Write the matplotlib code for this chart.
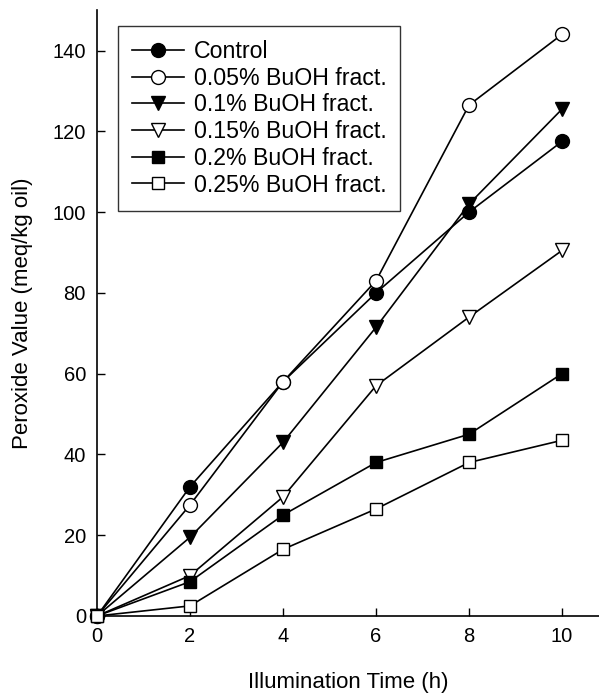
import matplotlib.pyplot as plt

plt.rcParams['font.family'] = ['Liberation Sans', 'DejaVu Sans']

# illumination time (h)
hours = [0, 2, 4, 6, 8, 10]

# peroxide value (meq/kg oil)
control = [0, 32, 58, 80, 100, 117.5]
buoh_005 = [0, 27.5, 58, 83, 126.5, 144]
buoh_01 = [0, 19.5, 43, 71.5, 102, 125.5]
buoh_015 = [0, 10, 29.5, 57, 74, 90.5]
buoh_02 = [0, 8.5, 25, 38, 45, 60]
buoh_025 = [0, 2.5, 16.5, 26.5, 38, 43.5]

labels = ['Control', '0.05% BuOH fract.', '0.1% BuOH fract.',
          '0.15% BuOH fract.', '0.2% BuOH fract.', '0.25% BuOH fract.']

fig = plt.figure(figsize=(5.99, 6.98), dpi=100)
ax = fig.add_axes([0.162, 0.1175, 0.84, 0.868])

styles = [('o', 'black'), ('o', 'white'), ('v', 'black'),
          ('v', 'white'), ('s', 'black'), ('s', 'white')]
series = [control, buoh_005, buoh_01, buoh_015, buoh_02, buoh_025]

for vals, lab, (m, fc) in zip(series, labels, styles):
    ms = 10 if m != 's' else 9
    ax.plot(hours, vals, color='black', lw=1.2, marker=m, ms=ms,
            mfc=fc, mec='black', mew=1.0, label=lab, clip_on=False, zorder=3)

ax.set_xlim(0, 10.82)
ax.set_ylim(0, 150)
ax.set_xticks([0, 2, 4, 6, 8, 10])
ax.set_yticks([0, 20, 40, 60, 80, 100, 120, 140])

ax.spines['top'].set_visible(False)
ax.spines['right'].set_visible(False)
for sp in ['left', 'bottom']:
    ax.spines[sp].set_linewidth(1.2)

ax.tick_params(direction='in', length=6, width=1.0, labelsize=14.5, pad=8)

ax.set_xlabel('Illumination Time (h)', fontsize=16, labelpad=19)
ax.set_ylabel('Peroxide Value (meq/kg oil)', fontsize=16, labelpad=14)

leg = ax.legend(loc='upper left', bbox_to_anchor=(0.042, 0.9736), fontsize=16.7,
                frameon=True, fancybox=False, edgecolor='black',
                handlelength=2.25, labelspacing=0.16, borderpad=0.6,
                handletextpad=0.4, borderaxespad=0)
leg.get_frame().set_linewidth(1.0)

fig.savefig('out.png', dpi=100)
